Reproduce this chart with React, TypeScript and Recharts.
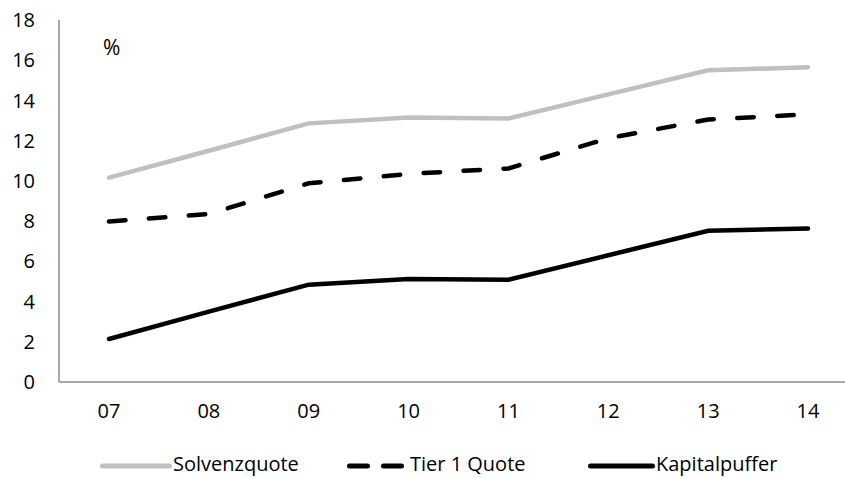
import { Line, LineChart, XAxis, YAxis } from 'recharts';

const jahre = ['07', '08', '09', '10', '11', '12', '13', '14'];
const solvenzquote = [10.16, 11.5, 12.86, 13.15, 13.1, 14.3, 15.5, 15.65];
const tier1Quote = [7.98, 8.35, 9.88, 10.35, 10.62, 12.12, 13.05, 13.31];
const kapitalpuffer = [2.14, 3.5, 4.84, 5.12, 5.09, 6.3, 7.52, 7.63];
const yTicks = [0, 2, 4, 6, 8, 10, 12, 14, 16, 18];

const FONT = '"Open Sans", sans-serif';

const chartData = jahre.map((jahr, i) => ({
  jahr,
  solvenz: solvenzquote[i],
  tier1: tier1Quote[i],
  puffer: kapitalpuffer[i],
}));

// legend entries: line sample from x1 to x2, label starting at textX
const legendItems = [
  { label: 'Solvenzquote', color: '#c0c0c0', dash: undefined, x1: 100, x2: 172, textX: 173 },
  { label: 'Tier 1 Quote', color: '#000000', dash: '18 16', x1: 347, x2: 404, textX: 410 },
  { label: 'Kapitalpuffer', color: '#000000', dash: undefined, x1: 588, x2: 655, textX: 656 },
];

function Legende() {
  return (
    <div style={{ position: 'absolute', top: 452, left: 0, width: 845, height: 24 }}>
      {legendItems.map((item) => (
        <div key={item.label}>
          <svg
            width={item.x2 - item.x1}
            height={10}
            style={{ position: 'absolute', left: item.x1, top: 9 }}
          >
            <line
              x1={2.5}
              y1={5}
              x2={item.x2 - item.x1 - 2.5}
              y2={5}
              stroke={item.color}
              strokeWidth={5}
              strokeDasharray={item.dash}
              strokeLinecap="round"
            />
          </svg>
          <span
            style={{
              position: 'absolute',
              left: item.textX,
              top: 0,
              fontFamily: FONT,
              fontSize: 20,
              lineHeight: '24px',
              whiteSpace: 'nowrap',
            }}
          >
            {item.label}
          </span>
        </div>
      ))}
    </div>
  );
}

export default function App() {
  return (
    <div
      style={{
        position: 'absolute',
        top: 0,
        left: 0,
        width: 845,
        height: 478,
        overflow: 'hidden',
        background: '#fff',
      }}
    >
      <LineChart
        width={845}
        height={478}
        data={chartData}
        margin={{ top: 20, right: 0, bottom: 66, left: 0 }}
      >
        <XAxis
          dataKey="jahr"
          padding={{ left: 50, right: 37 }}
          stroke="#8c8c8c"
          strokeWidth={1.5}
          tickLine={false}
          tick={{ fill: '#000', fontSize: 20, fontFamily: FONT }}
          tickMargin={16}
        />
        <YAxis
          domain={[0, 18]}
          ticks={yTicks}
          width={59}
          stroke="#8c8c8c"
          strokeWidth={1.5}
          tickLine={false}
          tick={{ fill: '#000', fontSize: 20, fontFamily: FONT, textAnchor: 'end' }}
          tickMargin={18}
        />
        <Line
          dataKey="solvenz"
          type="linear"
          stroke="#c0c0c0"
          strokeWidth={4.5}
          dot={false}
          strokeLinecap="round"
          isAnimationActive={false}
        />
        <Line
          dataKey="tier1"
          type="linear"
          stroke="#000"
          strokeWidth={4.5}
          strokeDasharray="16.5 23.5"
          strokeLinecap="round"
          dot={false}
          isAnimationActive={false}
        />
        <Line
          dataKey="puffer"
          type="linear"
          stroke="#000"
          strokeWidth={4.5}
          strokeLinecap="round"
          dot={false}
          isAnimationActive={false}
        />
      </LineChart>
      <div style={{ position: 'absolute', top: 33, left: 103, fontFamily: FONT, fontSize: 21, lineHeight: '28px' }}>%</div>
      <Legende />
    </div>
  );
}
